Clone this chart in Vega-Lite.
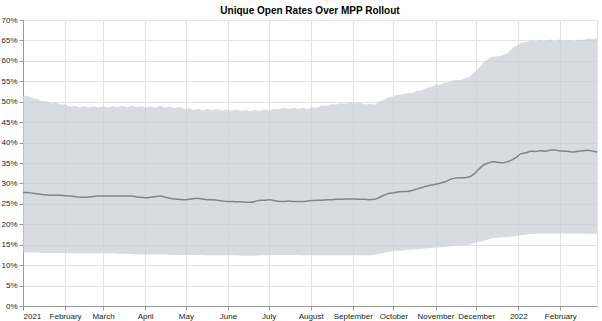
{
  "$schema": "https://vega.github.io/schema/vega-lite/v6.json",
  "width": 574,
  "height": 286,
  "autosize": {"type": "none"},
  "padding": {"left": 23, "top": 20, "right": 5, "bottom": 15},
  "title": {"text": "Unique Open Rates Over MPP Rollout", "font": "Liberation Sans", "fontSize": 10, "fontWeight": "bold", "color": "#000", "anchor": "middle", "offset": 0},
  "config": {
    "font": "Liberation Sans",
    "view": {"stroke": "#e3e3e3"},
    "axis": {"labelFont": "Liberation Sans", "labelFontSize": 8, "labelColor": "#222", "gridColor": "#e3e3e3", "domainColor": "#999", "tickColor": "#999", "tickSize": 4, "title": null}
  },
  "data": {"values": [
    {"d":"2021-01-01","lo":13.1,"mid":27.8,"hi":51.5},{"d":"2021-01-04","lo":13.1,"mid":27.8,"hi":51.4},
    {"d":"2021-01-08","lo":13.1,"mid":27.6,"hi":50.9},{"d":"2021-01-11","lo":13.1,"mid":27.5,"hi":50.7},
    {"d":"2021-01-15","lo":13.0,"mid":27.3,"hi":50.1},{"d":"2021-01-18","lo":13.0,"mid":27.2,"hi":50.1},
    {"d":"2021-01-22","lo":13.0,"mid":27.1,"hi":49.6},{"d":"2021-01-25","lo":13.0,"mid":27.1,"hi":49.8},
    {"d":"2021-01-29","lo":13.0,"mid":27.1,"hi":49.3},{"d":"2021-02-01","lo":13.0,"mid":27.0,"hi":49.3},
    {"d":"2021-02-05","lo":13.0,"mid":26.9,"hi":48.8},{"d":"2021-02-08","lo":12.9,"mid":26.8,"hi":49.0},
    {"d":"2021-02-12","lo":12.9,"mid":26.6,"hi":48.6},{"d":"2021-02-15","lo":12.9,"mid":26.6,"hi":48.9},
    {"d":"2021-02-19","lo":12.9,"mid":26.7,"hi":48.6},{"d":"2021-02-22","lo":12.9,"mid":26.8,"hi":48.9},
    {"d":"2021-02-26","lo":12.9,"mid":26.9,"hi":48.6},{"d":"2021-03-01","lo":12.9,"mid":26.9,"hi":48.8},
    {"d":"2021-03-05","lo":12.9,"mid":26.9,"hi":48.6},{"d":"2021-03-08","lo":12.9,"mid":26.9,"hi":48.9},
    {"d":"2021-03-12","lo":12.8,"mid":26.9,"hi":48.7},{"d":"2021-03-15","lo":12.8,"mid":26.9,"hi":49.0},
    {"d":"2021-03-19","lo":12.8,"mid":26.9,"hi":48.6},{"d":"2021-03-22","lo":12.7,"mid":26.9,"hi":49.1},
    {"d":"2021-03-26","lo":12.6,"mid":26.7,"hi":48.7},{"d":"2021-03-29","lo":12.6,"mid":26.6,"hi":48.9},
    {"d":"2021-04-02","lo":12.6,"mid":26.5,"hi":48.6},{"d":"2021-04-05","lo":12.6,"mid":26.6,"hi":48.9},
    {"d":"2021-04-09","lo":12.6,"mid":26.8,"hi":48.6},{"d":"2021-04-12","lo":12.6,"mid":26.9,"hi":49.0},
    {"d":"2021-04-16","lo":12.6,"mid":26.6,"hi":48.5},{"d":"2021-04-19","lo":12.5,"mid":26.4,"hi":48.8},
    {"d":"2021-04-23","lo":12.5,"mid":26.2,"hi":48.4},{"d":"2021-04-26","lo":12.5,"mid":26.1,"hi":48.7},
    {"d":"2021-04-30","lo":12.5,"mid":26.0,"hi":48.2},{"d":"2021-05-03","lo":12.5,"mid":26.1,"hi":48.4},
    {"d":"2021-05-07","lo":12.5,"mid":26.3,"hi":48.0},{"d":"2021-05-10","lo":12.5,"mid":26.4,"hi":48.3},
    {"d":"2021-05-14","lo":12.5,"mid":26.1,"hi":47.9},{"d":"2021-05-17","lo":12.4,"mid":26.0,"hi":48.2},
    {"d":"2021-05-21","lo":12.4,"mid":26.0,"hi":47.9},{"d":"2021-05-24","lo":12.4,"mid":25.9,"hi":48.2},
    {"d":"2021-05-28","lo":12.4,"mid":25.7,"hi":47.8},{"d":"2021-05-31","lo":12.4,"mid":25.6,"hi":48.1},
    {"d":"2021-06-04","lo":12.4,"mid":25.6,"hi":47.8},{"d":"2021-06-07","lo":12.4,"mid":25.5,"hi":48.1},
    {"d":"2021-06-11","lo":12.3,"mid":25.5,"hi":47.8},{"d":"2021-06-14","lo":12.3,"mid":25.4,"hi":48.0},
    {"d":"2021-06-18","lo":12.3,"mid":25.4,"hi":47.7},{"d":"2021-06-21","lo":12.3,"mid":25.6,"hi":48.0},
    {"d":"2021-06-25","lo":12.4,"mid":25.9,"hi":47.8},{"d":"2021-06-28","lo":12.4,"mid":25.9,"hi":48.1},
    {"d":"2021-07-02","lo":12.5,"mid":26.0,"hi":47.9},{"d":"2021-07-05","lo":12.5,"mid":25.8,"hi":48.3},
    {"d":"2021-07-09","lo":12.5,"mid":25.6,"hi":48.2},{"d":"2021-07-12","lo":12.5,"mid":25.6,"hi":48.5},
    {"d":"2021-07-16","lo":12.5,"mid":25.7,"hi":48.2},{"d":"2021-07-19","lo":12.5,"mid":25.6,"hi":48.5},
    {"d":"2021-07-23","lo":12.5,"mid":25.6,"hi":48.2},{"d":"2021-07-26","lo":12.4,"mid":25.6,"hi":48.5},
    {"d":"2021-07-30","lo":12.4,"mid":25.7,"hi":48.2},{"d":"2021-08-02","lo":12.4,"mid":25.8,"hi":48.6},
    {"d":"2021-08-06","lo":12.4,"mid":25.9,"hi":48.6},{"d":"2021-08-09","lo":12.4,"mid":25.9,"hi":49.0},
    {"d":"2021-08-13","lo":12.4,"mid":26.0,"hi":49.0},{"d":"2021-08-16","lo":12.4,"mid":26.0,"hi":49.4},
    {"d":"2021-08-20","lo":12.4,"mid":26.1,"hi":49.3},{"d":"2021-08-23","lo":12.4,"mid":26.1,"hi":49.6},
    {"d":"2021-08-27","lo":12.4,"mid":26.2,"hi":49.5},{"d":"2021-08-30","lo":12.4,"mid":26.2,"hi":49.9},
    {"d":"2021-09-03","lo":12.4,"mid":26.2,"hi":49.6},{"d":"2021-09-06","lo":12.4,"mid":26.1,"hi":49.8},
    {"d":"2021-09-10","lo":12.4,"mid":26.1,"hi":49.3},{"d":"2021-09-13","lo":12.4,"mid":26.0,"hi":49.5},
    {"d":"2021-09-17","lo":12.5,"mid":26.1,"hi":49.3},{"d":"2021-09-20","lo":12.7,"mid":26.5,"hi":50.0},
    {"d":"2021-09-24","lo":13.0,"mid":27.1,"hi":50.5},{"d":"2021-09-27","lo":13.2,"mid":27.5,"hi":51.0},
    {"d":"2021-10-01","lo":13.4,"mid":27.7,"hi":51.3},{"d":"2021-10-04","lo":13.5,"mid":27.9,"hi":51.7},
    {"d":"2021-10-08","lo":13.6,"mid":28.0,"hi":51.8},{"d":"2021-10-11","lo":13.7,"mid":28.0,"hi":52.1},
    {"d":"2021-10-15","lo":13.8,"mid":28.3,"hi":52.2},{"d":"2021-10-18","lo":13.9,"mid":28.6,"hi":52.6},
    {"d":"2021-10-22","lo":14.0,"mid":29.0,"hi":52.8},{"d":"2021-10-25","lo":14.1,"mid":29.3,"hi":53.3},
    {"d":"2021-10-29","lo":14.2,"mid":29.6,"hi":53.6},{"d":"2021-11-01","lo":14.3,"mid":29.8,"hi":54.1},
    {"d":"2021-11-05","lo":14.4,"mid":30.1,"hi":54.2},{"d":"2021-11-08","lo":14.5,"mid":30.4,"hi":54.7},
    {"d":"2021-11-12","lo":14.6,"mid":31.0,"hi":54.9},{"d":"2021-11-15","lo":14.7,"mid":31.3,"hi":55.3},
    {"d":"2021-11-19","lo":14.8,"mid":31.4,"hi":55.3},{"d":"2021-11-22","lo":14.9,"mid":31.4,"hi":55.7},
    {"d":"2021-11-26","lo":15.0,"mid":31.6,"hi":56.1},{"d":"2021-11-29","lo":15.3,"mid":32.2,"hi":57.0},
    {"d":"2021-12-03","lo":15.7,"mid":33.5,"hi":58.4},{"d":"2021-12-06","lo":15.9,"mid":34.4,"hi":59.5},
    {"d":"2021-12-10","lo":16.3,"mid":35.0,"hi":60.5},{"d":"2021-12-13","lo":16.6,"mid":35.3,"hi":61.0},
    {"d":"2021-12-17","lo":16.7,"mid":35.2,"hi":61.1},{"d":"2021-12-20","lo":16.8,"mid":35.0,"hi":61.4},
    {"d":"2021-12-24","lo":16.9,"mid":35.3,"hi":61.9},{"d":"2021-12-27","lo":17.0,"mid":35.7,"hi":62.9},
    {"d":"2021-12-31","lo":17.2,"mid":36.5,"hi":63.8},{"d":"2022-01-03","lo":17.3,"mid":37.3,"hi":64.3},
    {"d":"2022-01-07","lo":17.5,"mid":37.5,"hi":64.6},{"d":"2022-01-10","lo":17.6,"mid":37.9,"hi":65.0},
    {"d":"2022-01-14","lo":17.7,"mid":37.8,"hi":64.8},{"d":"2022-01-17","lo":17.7,"mid":38.0,"hi":65.1},
    {"d":"2022-01-21","lo":17.7,"mid":37.9,"hi":64.9},{"d":"2022-01-24","lo":17.7,"mid":38.1,"hi":65.2},
    {"d":"2022-01-28","lo":17.7,"mid":38.2,"hi":64.8},{"d":"2022-01-31","lo":17.7,"mid":38.0,"hi":65.2},
    {"d":"2022-02-04","lo":17.7,"mid":37.9,"hi":64.9},{"d":"2022-02-07","lo":17.7,"mid":37.8,"hi":65.1},
    {"d":"2022-02-11","lo":17.7,"mid":37.7,"hi":64.8},{"d":"2022-02-14","lo":17.7,"mid":37.9,"hi":65.2},
    {"d":"2022-02-18","lo":17.7,"mid":38.0,"hi":65.1},{"d":"2022-02-21","lo":17.7,"mid":38.1,"hi":65.4},
    {"d":"2022-02-25","lo":17.7,"mid":37.9,"hi":65.3},{"d":"2022-02-28","lo":17.7,"mid":37.7,"hi":65.6}
  ]},
  "encoding": {
    "x": {"field": "d", "type": "temporal", "scale": {"type": "utc", "nice": false},
          "axis": {"tickCount": {"interval": "month", "step": 1}, "labelPadding": 2, "labelOverlap": false}}
  },
  "layer": [
    {"mark": {"type": "area", "interpolate": "monotone", "color": "#c8ccd3", "opacity": 0.7},
     "encoding": {
       "y": {"field": "hi", "type": "quantitative", "scale": {"domain": [0, 70], "nice": false},
             "axis": {"values": [0,5,10,15,20,25,30,35,40,45,50,55,60,65,70], "labelExpr": "datum.value + '%'", "labelPadding": 2, "labelOverlap": false}},
       "y2": {"field": "lo"}
     }},
    {"mark": {"type": "line", "interpolate": "monotone", "color": "#7b8693", "strokeWidth": 1.5},
     "encoding": {"y": {"field": "mid", "type": "quantitative", "scale": {"domain": [0, 70], "nice": false},
             "axis": {"values": [0,5,10,15,20,25,30,35,40,45,50,55,60,65,70], "labelExpr": "datum.value + '%'", "labelPadding": 2, "labelOverlap": false}}}}
  ]
}
